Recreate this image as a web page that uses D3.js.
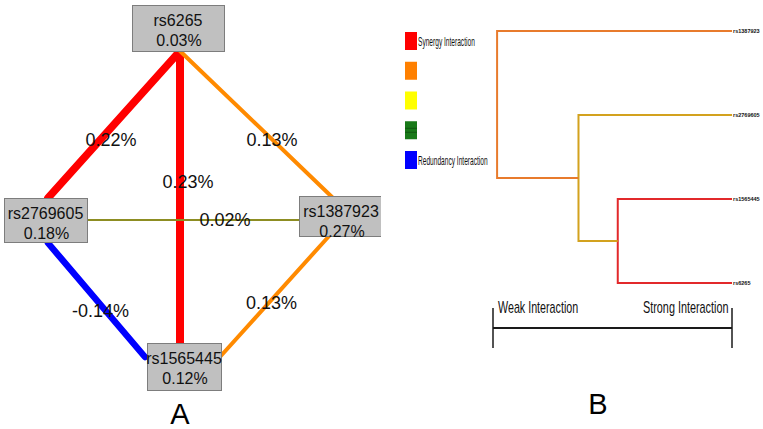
<!DOCTYPE html>
<html>
<head>
<meta charset="utf-8">
<script src="https://cdn.jsdelivr.net/npm/d3@7/dist/d3.min.js"></script>
<style>
  html, body { margin: 0; padding: 0; background: #fff; }
  svg { display: block; font-family: "Liberation Sans", Arial, sans-serif; }
</style>
</head>
<body>
<svg id="chart" width="763" height="429"></svg>
<script>
// ---------------- DATA ----------------
// Panel A: interaction graph
const snpNames  = ["rs6265", "rs2769605", "rs1387923", "rs1565445"];
const snpValues = [0.03, 0.18, 0.27, 0.12];           // % entropy per SNP
const edgeSources = ["rs6265", "rs6265", "rs6265", "rs2769605", "rs2769605", "rs1387923"];
const edgeTargets = ["rs2769605", "rs1565445", "rs1387923", "rs1387923", "rs1565445", "rs1565445"];
const edgeValues  = [0.22, 0.23, 0.13, 0.02, -0.14, 0.13];

// Panel B: legend + dendrogram
const legendLabels = ["Synergy Interaction", "", "", "", "Redundancy Interaction"];
const legendColors = ["#ff0000", "#ff8000", "#ffff00", "#197a19", "#0000ff"];
const dendroLeaves = ["rs1387923", "rs2769605", "rs1565445", "rs6265"];
const mergeIds      = ["m1", "m2", "m3"];
const mergeLeft     = ["rs1565445", "rs2769605", "rs1387923"];
const mergeRight    = ["rs6265", "m1", "m2"];
const mergeStrength = [0.52, 0.355, 0.013];            // 0 = weak, 1 = strong
const mergeColors   = ["#e2292b", "#d3a21e", "#e87b2c"];
const scaleLabels   = ["Weak Interaction", "Strong Interaction"];

// ---------------- LAYOUT ----------------
const svg = d3.select("#chart");

const boxLayout = {
  rs6265:    {x: 132, y: 5,   w: 92, h: 46},
  rs2769605: {x: 4,   y: 198, w: 83, h: 44},
  rs1387923: {x: 299, y: 196, w: 84, h: 40},
  rs1565445: {x: 147, y: 343, w: 74, h: 47}
};
const anchorLayout = {
  "rs6265>rs2769605": [48, 46], "rs6265>rs1565445": [48, 46], "rs6265>rs1387923": [48, 46],
  "rs2769605>rs6265": [44, 0],  "rs2769605>rs1387923": [83, 22], "rs2769605>rs1565445": [44, 45],
  "rs1387923>rs6265": [33, 1],  "rs1387923>rs2769605": [0, 24], "rs1387923>rs1565445": [31, 39],
  "rs1565445>rs6265": [33, 0],  "rs1565445>rs2769605": [-2, 14], "rs1565445>rs1387923": [72, 15]
};
const labelOffset = [[-3, 15], [8, -16], [16, 15], [32, -1], [4, 10], [-3, 6]];

const pct = v => (v < 0 ? "-" : "") + d3.format(".2f")(Math.abs(v)) + "%";

const edgeColor = d3.scaleThreshold()
  .domain([0, 0.05, 0.2])
  .range(["#0000ff", "#8d8d22", "#ff8a00", "#ff0000"]);
const edgeWidth = d3.scaleLinear()
  .domain([0.02, 0.13, 0.14, 0.23])
  .range([2, 4, 6.5, 8]);

const edges = edgeSources.map((s, i) => ({s, t: edgeTargets[i], v: edgeValues[i], off: labelOffset[i]}));
function anchor(a, b) {
  const bx = boxLayout[a], o = anchorLayout[a + ">" + b];
  return [bx.x + o[0], bx.y + o[1]];
}

svg.append("defs").append("clipPath").attr("id", "clipA")
  .append("rect").attr("x", 0).attr("y", 0).attr("width", 381).attr("height", 429);

const gA = svg.append("g").attr("clip-path", "url(#clipA)");

gA.selectAll("line.edge").data(edges).join("line")
  .attr("class", "edge")
  .attr("x1", d => anchor(d.s, d.t)[0]).attr("y1", d => anchor(d.s, d.t)[1])
  .attr("x2", d => anchor(d.t, d.s)[0]).attr("y2", d => anchor(d.t, d.s)[1])
  .attr("stroke", d => edgeColor(d.v))
  .attr("stroke-width", d => edgeWidth(Math.abs(d.v)))
  .attr("stroke-linecap", d => Math.abs(d.v) > 0.05 ? "round" : "butt");

const nodes = snpNames.map((n, i) => ({n, v: snpValues[i], b: boxLayout[n]}));
const ng = gA.selectAll("g.node").data(nodes).join("g").attr("class", "node");
ng.append("rect")
  .attr("x", d => d.b.x + 0.5).attr("y", d => d.b.y + 0.5)
  .attr("width", d => d.b.w).attr("height", d => d.b.h)
  .attr("fill", "#c0c0c0").attr("stroke", "#7d7d7d").attr("stroke-width", 1);
ng.append("text")
  .attr("x", d => d.b.x + d.b.w / 2).attr("y", d => d.b.y + 20.5)
  .attr("text-anchor", "middle").attr("font-size", 16).attr("fill", "#111")
  .text(d => d.n);
ng.append("text")
  .attr("x", d => d.b.x + d.b.w / 2 + 1).attr("y", d => d.b.y + 41)
  .attr("text-anchor", "middle").attr("font-size", 16).attr("fill", "#111")
  .text(d => pct(d.v));

gA.selectAll("text.elabel").data(edges).join("text")
  .attr("class", "elabel")
  .attr("x", d => (anchor(d.s, d.t)[0] + anchor(d.t, d.s)[0]) / 2 + d.off[0])
  .attr("y", d => (anchor(d.s, d.t)[1] + anchor(d.t, d.s)[1]) / 2 + d.off[1] + 6.5)
  .attr("text-anchor", "middle").attr("font-size", 18).attr("fill", "#111")
  .text(d => pct(d.v));

svg.append("text").attr("x", 180).attr("y", 424).attr("text-anchor", "middle")
  .attr("font-size", 29).attr("fill", "#000").text("A");

// ---------------- PANEL B ----------------
const legY = d3.scalePoint().domain(d3.range(legendColors.length)).range([41, 160]);
const legend = legendColors.map((c, i) => ({c, label: legendLabels[i], i}));
const lg = svg.append("g").selectAll("g").data(legend).join("g");
lg.append("rect")
  .attr("x", 405).attr("y", d => legY(d.i) - 9)
  .attr("width", 12).attr("height", 18).attr("fill", d => d.c);
svg.append("g").selectAll("line").data([-2, 2]).join("line")
  .attr("x1", 405).attr("x2", 417)
  .attr("y1", d => legY(3) + d).attr("y2", d => legY(3) + d)
  .attr("stroke", "#0d4d0d").attr("stroke-width", 0.8);
lg.filter(d => d.label).append("text")
  .attr("transform", d => `translate(418,${legY(d.i) + 4.5}) scale(0.55,1)`)
  .attr("font-size", 12).attr("fill", "#111")
  .text(d => d.label);

// dendrogram
const xS = d3.scaleLinear().domain([0, 1]).range([494, 732]);
const yS = d3.scalePoint().domain(dendroLeaves).range([31, 283]);
const pos = {};
dendroLeaves.forEach(l => pos[l] = {x: xS(1), y: yS(l)});
mergeIds.forEach((id, i) => {
  const a = pos[mergeLeft[i]], b = pos[mergeRight[i]];
  pos[id] = {x: xS(mergeStrength[i]), y: (a.y + b.y) / 2, a, b, color: mergeColors[i]};
});
const gB = svg.append("g").attr("fill", "none").attr("stroke-width", 2);
mergeIds.forEach(id => {
  const m = pos[id];
  gB.append("path")
    .attr("d", `M${m.a.x},${m.a.y}H${m.x}V${m.b.y}H${m.b.x}`)
    .attr("stroke", m.color);
});
svg.append("g").selectAll("text").data(dendroLeaves).join("text")
  .attr("x", xS(1) + 1).attr("y", d => yS(d) + 2)
  .attr("font-size", 5.5).attr("font-weight", "bold").attr("fill", "#111")
  .text(d => d);

// strength scale bar
const bar = svg.append("g").attr("stroke", "#1a1a1a");
bar.append("line").attr("x1", xS.range()[0] - 1).attr("x2", xS.range()[1])
  .attr("y1", 328).attr("y2", 328).attr("stroke-width", 2);
bar.selectAll("line.tk").data(xS.range()).join("line").attr("class", "tk")
  .attr("x1", (d, i) => d - (i ? 0 : 1)).attr("x2", (d, i) => d - (i ? 0 : 1))
  .attr("y1", 308).attr("y2", 348).attr("stroke-width", 1.5);
svg.append("text").attr("transform", "translate(498,313) scale(0.67,1)")
  .attr("font-size", 16).attr("fill", "#111").text(scaleLabels[0]);
svg.append("text").attr("transform", "translate(643,313) scale(0.677,1)")
  .attr("font-size", 16).attr("fill", "#111").text(scaleLabels[1]);

svg.append("text").attr("x", 598).attr("y", 414).attr("text-anchor", "middle")
  .attr("font-size", 29).attr("fill", "#000").text("B");
</script>
</body>
</html>
